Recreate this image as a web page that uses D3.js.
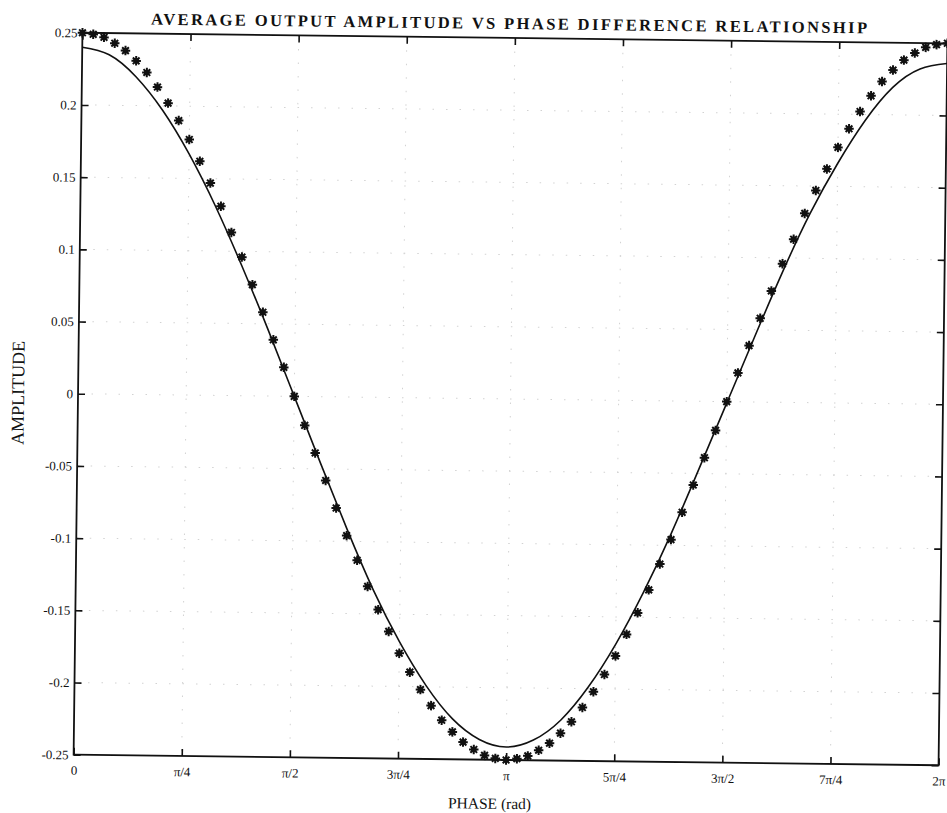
<!DOCTYPE html>
<html>
<head>
<meta charset="utf-8">
<script src="https://cdn.jsdelivr.net/npm/d3@7"></script>
<style>
  html, body { margin: 0; padding: 0; background: #fff; }
  svg { display: block; }
  text { font-family: "Liberation Serif", "DejaVu Serif", serif; fill: #111; }
</style>
</head>
<body>
<div id="chart"></div>
<script>
// values
var titleText = "AVERAGE OUTPUT AMPLITUDE VS PHASE DIFFERENCE RELATIONSHIP";
var xLabelText = "PHASE (rad)";
var yLabelText = "AMPLITUDE";

// x ticks: multiples of pi/4
var xTickMult = [0, 0.25, 0.5, 0.75, 1, 1.25, 1.5, 1.75, 2];
var xTickLabels = ["0", "\u03c0/4", "\u03c0/2", "3\u03c0/4", "\u03c0", "5\u03c0/4", "3\u03c0/2", "7\u03c0/4", "2\u03c0"];
var yTicks = [-0.25, -0.2, -0.15, -0.1, -0.05, 0, 0.05, 0.1, 0.15, 0.2, 0.25];

// solid curve, sampled every pi/16
var lineStep = Math.PI / 16;
var lineValues = [0.240, 0.235, 0.220, 0.197, 0.167, 0.131, 0.090, 0.046, 0.000,
                  -0.046, -0.091, -0.133, -0.169, -0.199, -0.222, -0.236, -0.241,
                  -0.236, -0.222, -0.199, -0.169, -0.133, -0.092, -0.047, -0.001,
                  0.045, 0.090, 0.131, 0.166, 0.196, 0.219, 0.232, 0.236];

// asterisk markers, every pi/40
var markerStep = Math.PI / 40;
var markerValues = [0.250, 0.249, 0.247, 0.243, 0.238, 0.231, 0.223, 0.213, 0.202, 0.190,
                    0.177, 0.162, 0.147, 0.131, 0.113, 0.096, 0.077, 0.058, 0.039, 0.020,
                    0.000, -0.020, -0.039, -0.058, -0.077, -0.096, -0.113, -0.131, -0.147, -0.162,
                    -0.177, -0.190, -0.202, -0.213, -0.223, -0.231, -0.238, -0.243, -0.247, -0.249,
                    -0.250, -0.249, -0.247, -0.243, -0.238, -0.231, -0.223, -0.213, -0.202, -0.190,
                    -0.177, -0.162, -0.147, -0.131, -0.113, -0.096, -0.077, -0.058, -0.039, -0.020,
                    0.000, 0.020, 0.039, 0.058, 0.077, 0.096, 0.113, 0.131, 0.147, 0.162,
                    0.177, 0.190, 0.202, 0.213, 0.223, 0.231, 0.238, 0.243, 0.247, 0.249, 0.250];

var W = 947, H = 813;
var mLeft = 78, mTop = 38, width = 865, height = 722;

var svg = d3.select("#chart").append("svg")
    .attr("width", W)
    .attr("height", H);

// the scanned figure is tilted slightly
var g = svg.append("g")
    .attr("transform", "rotate(0.7," + (mLeft + width / 2) + "," + (mTop + height / 2) + ")");

var x = d3.scaleLinear().domain([0, 2 * Math.PI]).range([mLeft, mLeft + width]);
var y = d3.scaleLinear().domain([-0.25, 0.25]).range([mTop + height, mTop]);

var xTickVals = xTickMult.map(function(m) { return m * Math.PI; });

// faint dotted grid
g.append("g").selectAll("line")
  .data(xTickVals.slice(1, -1))
  .enter().append("line")
  .attr("x1", function(d) { return x(d); }).attr("x2", function(d) { return x(d); })
  .attr("y1", mTop).attr("y2", mTop + height)
  .attr("stroke", "#d2d2d2").attr("stroke-width", 1)
  .attr("stroke-dasharray", "1.5,12");
g.append("g").selectAll("line")
  .data(yTicks.slice(1, -1))
  .enter().append("line")
  .attr("x1", mLeft).attr("x2", mLeft + width)
  .attr("y1", function(d) { return y(d); }).attr("y2", function(d) { return y(d); })
  .attr("stroke", "#d2d2d2").attr("stroke-width", 1)
  .attr("stroke-dasharray", "1.5,12");

// axes, ticks pointing inward
var xAxis = g.append("g")
  .attr("transform", "translate(0," + (mTop + height) + ")")
  .call(d3.axisBottom(x).tickValues(xTickVals)
        .tickFormat(function(d, i) { return xTickLabels[i]; })
        .tickSizeInner(-7).tickSizeOuter(0).tickPadding(11));
var yAxis = g.append("g")
  .attr("transform", "translate(" + mLeft + ",0)")
  .call(d3.axisLeft(y).tickValues(yTicks)
        .tickFormat(function(d) { return String(+d.toFixed(2)); })
        .tickSizeInner(-7).tickSizeOuter(0).tickPadding(5));
var topAxis = g.append("g")
  .attr("transform", "translate(0," + mTop + ")")
  .call(d3.axisTop(x).tickValues(xTickVals).tickFormat("")
        .tickSizeInner(-7).tickSizeOuter(0));
var rightAxis = g.append("g")
  .attr("transform", "translate(" + (mLeft + width) + ",0)")
  .call(d3.axisRight(y).tickValues(yTicks).tickFormat("")
        .tickSizeInner(-7).tickSizeOuter(0));

[xAxis, yAxis, topAxis, rightAxis].forEach(function(a) {
  a.select(".domain").remove();
  a.selectAll(".tick line").attr("stroke", "#111").attr("stroke-width", 1.6);
  a.selectAll(".tick text")
   .attr("font-family", "Liberation Serif, serif")
   .attr("font-size", "13px")
   .attr("fill", "#111");
});

g.append("rect")
  .attr("x", mLeft).attr("y", mTop)
  .attr("width", width).attr("height", height)
  .attr("fill", "none").attr("stroke", "#111").attr("stroke-width", 1.8);

// solid curve
var line = d3.line()
  .x(function(d, i) { return x(i * lineStep); })
  .y(function(d) { return y(d); })
  .curve(d3.curveNatural);

g.append("path")
  .datum(lineValues)
  .attr("d", line)
  .attr("fill", "none")
  .attr("stroke", "#111")
  .attr("stroke-width", 1.6);

// asterisk markers
var asterisk = {
  draw: function(ctx, size) {
    var r = Math.sqrt(size) / 2, d = r * Math.SQRT1_2;
    ctx.moveTo(-r, 0); ctx.lineTo(r, 0);
    ctx.moveTo(0, -r); ctx.lineTo(0, r);
    ctx.moveTo(-d, -d); ctx.lineTo(d, d);
    ctx.moveTo(-d, d); ctx.lineTo(d, -d);
  }
};

var marks = g.append("g").selectAll("g")
  .data(markerValues)
  .enter().append("g")
  .attr("transform", function(d, i) { return "translate(" + x(i * markerStep) + "," + y(d) + ")"; });
marks.append("circle").attr("r", 2.8).attr("fill", "#111");
marks.append("path")
  .attr("d", d3.symbol().type(asterisk).size(90))
  .attr("fill", "none")
  .attr("stroke", "#111")
  .attr("stroke-width", 2);

// title and axis labels
g.append("text")
  .attr("x", mLeft + width / 2 - 6)
  .attr("y", mTop - 9)
  .attr("text-anchor", "middle")
  .attr("font-size", "16.5px")
  .attr("font-weight", "bold")
  .attr("textLength", 716)
  .attr("lengthAdjust", "spacing")
  .text(titleText);

g.append("text")
  .attr("x", mLeft + width / 2 - 16)
  .attr("y", mTop + height + 49)
  .attr("text-anchor", "middle")
  .attr("font-size", "15.5px")
  .text(xLabelText);

g.append("text")
  .attr("transform", "translate(" + (mLeft - 54) + "," + (mTop + height / 2) + ") rotate(-90)")
  .attr("text-anchor", "middle")
  .attr("font-size", "18px")
  .text(yLabelText);
</script>
</body>
</html>
